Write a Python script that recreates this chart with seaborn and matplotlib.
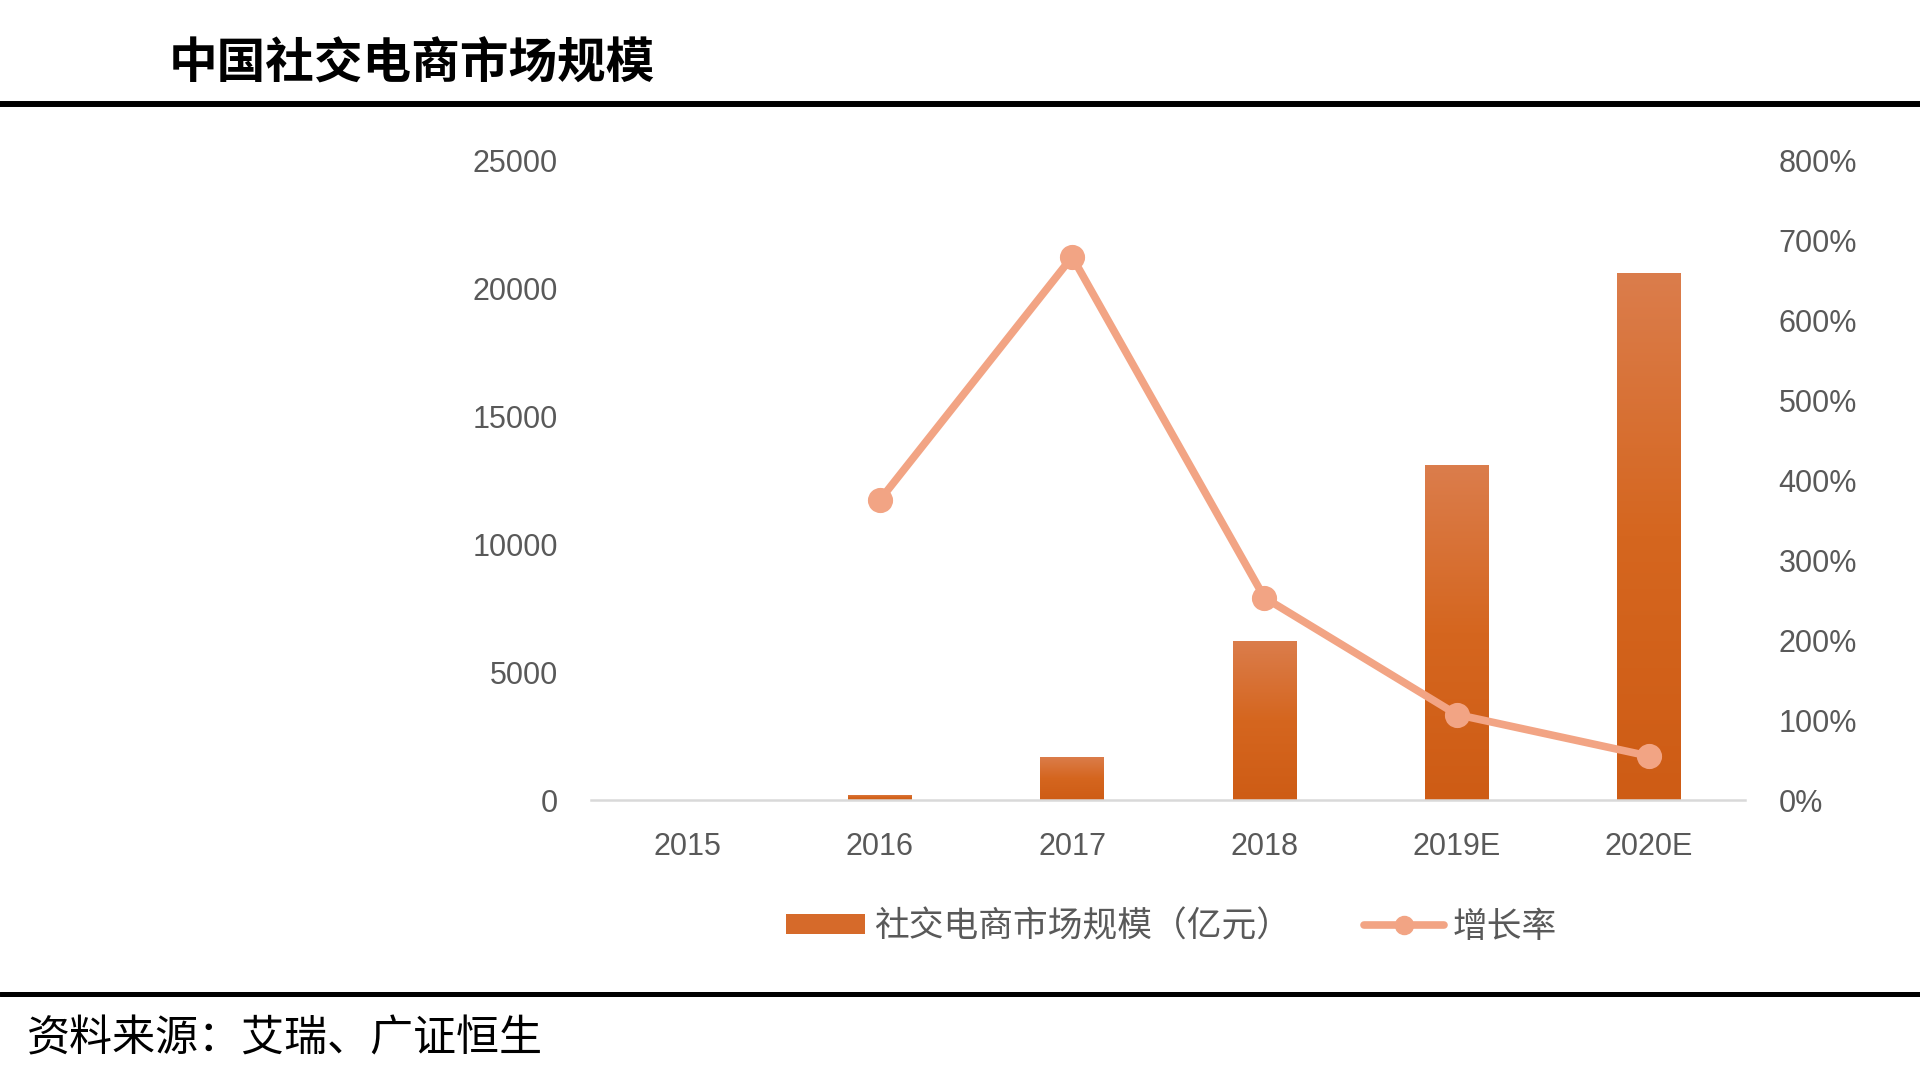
import numpy as np
import pandas as pd
import matplotlib
matplotlib.use("Agg")
import matplotlib.pyplot as plt
from matplotlib.patches import Patch
from matplotlib.lines import Line2D
from matplotlib.colors import LinearSegmentedColormap
import seaborn as sns

# ---- data ----
years = ["2015", "2016", "2017", "2018", "2019E", "2020E"]
market_size = [10, 210, 1680, 6230, 13080, 20600]          # 亿元
growth_rate = [np.nan, 3.75, 6.79, 2.53, 1.07, 0.55]        # ratio (1.0 = 100%)
left_ticks = [0, 5000, 10000, 15000, 20000, 25000]
right_ticks = [0, 1, 2, 3, 4, 5, 6, 7, 8]

title_text = "中国社交电商市场规模"
source_text = "资料来源：艾瑞、广证恒生"
bar_label = "社交电商市场规模（亿元）"
line_label = "增长率"

df = pd.DataFrame({"year": years, "size": market_size, "growth": growth_rate})

sns.set_theme(style="white")
plt.rcParams["font.family"] = ["Liberation Sans", "Noto Sans CJK SC", "DejaVu Sans"]

BAR_TOP = "#DB7D4C"
BAR_BOT = "#CE5C15"
BAR_C = "#D66A2A"
LINE_C = "#F2A484"
TICK_C = "#595959"

fig = plt.figure(figsize=(19.2, 10.74), dpi=100)
ax = fig.add_axes([0.308, 0.255, 0.601, 0.596])

sns.barplot(data=df, x="year", y="size", order=years, color=BAR_C,
            width=0.33, ax=ax, saturation=1, zorder=2)

# gradient fill on the bars
grad = np.linspace(0, 1, 256).reshape(-1, 1)
cmap = LinearSegmentedColormap.from_list("barg", [BAR_BOT, "#D5661F", BAR_TOP])
for p in list(ax.patches):
    x0, y0 = p.get_x(), p.get_y()
    w, h = p.get_width(), p.get_height()
    if h <= 0:
        continue
    im = ax.imshow(grad, cmap=cmap, aspect="auto", origin="lower",
                   extent=[x0, x0 + w, y0, y0 + h], zorder=2.1)
    im.set_clip_path(p)

ax.set_xlim(-0.5, 5.5)
ax.set_ylim(0, 25000)
ax.set_yticks(left_ticks)
ax.set_yticklabels([str(v) for v in left_ticks])
ax.set_xlabel("")
ax.set_ylabel("")
for s in ["top", "left", "right"]:
    ax.spines[s].set_visible(False)
ax.spines["bottom"].set_color("#D9D9D9")
ax.spines["bottom"].set_linewidth(1.8)
ax.tick_params(axis="both", length=0, colors=TICK_C, labelsize=22)
ax.tick_params(axis="y", pad=24)
ax.tick_params(axis="x", pad=23)

ax2 = ax.twinx()
sns.pointplot(data=df, x="year", y="growth", order=years, color=LINE_C,
              markers="o", linestyles="-", errorbar=None, ax=ax2,
              markersize=14, linewidth=5.5)
ax2.set_xlim(-0.5, 5.5)
ax2.set_ylim(0, 8)
ax2.set_yticks(right_ticks)
ax2.set_yticklabels([f"{int(v*100)}%" for v in right_ticks])
ax2.set_ylabel("")
ax2.set_xlabel("")
for s in ["top", "left", "right", "bottom"]:
    ax2.spines[s].set_visible(False)
ax2.tick_params(axis="both", length=0, colors=TICK_C, labelsize=22)
ax2.tick_params(axis="y", pad=24)
ax2.grid(False)
ax.grid(False)

# legend
handles = [Patch(facecolor=BAR_C, edgecolor="none"),
           Line2D([0], [0], color=LINE_C, lw=5.5, marker="o", markersize=13)]
fig.legend(handles, [bar_label, line_label], loc="center",
           bbox_to_anchor=(0.610, 0.137), ncol=2, frameon=False,
           fontsize=25, labelcolor=TICK_C, handlelength=2.3, handleheight=0.5,
           handletextpad=0.25, columnspacing=2.1)

# title & rules
fig.text(0.088, 0.940, title_text, fontsize=35, fontweight="bold",
         family=["Noto Sans CJK SC"], color="black", va="center", ha="left")
fig.add_artist(Line2D([0, 1], [0.903, 0.903], transform=fig.transFigure,
                      color="black", lw=4.3))
fig.add_artist(Line2D([0, 1], [0.0745, 0.0745], transform=fig.transFigure,
                      color="black", lw=3.6))
fig.text(0.014, 0.032, source_text, fontsize=31,
         family=["Noto Sans CJK SC"], color="black", va="center", ha="left")

fig.savefig("out.png", dpi=100, facecolor="white")
